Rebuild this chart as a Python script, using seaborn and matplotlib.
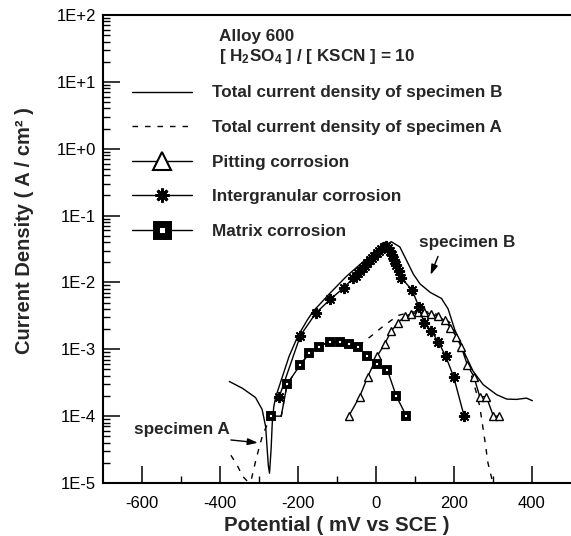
import matplotlib
matplotlib.use("Agg")
import matplotlib.pyplot as plt
from matplotlib.lines import Line2D
from matplotlib.ticker import FixedLocator, LogLocator, NullFormatter
import seaborn as sns
import pandas as pd

# ---------------- data ----------------
b_x = [-376, -342, -309, -292, -283, -279, -276, -273, -269, -266, -262, -257,
       -240, -223, -201, -176, -161, -118, -76, -33, 14, 39, 61, 79, 96, 113,
       139, 168, 185, 202, 223, 249, 275, 309, 335, 360, 386, 401]
b_y = [3.3e-4, 2.6e-4, 1.9e-4, 1.26e-4, 7.0e-5, 3.2e-5, 1.8e-5, 1.4e-5, 3.2e-5,
       7.9e-5, 1.4e-4, 1.95e-4, 3.9e-4, 7.8e-4, 1.55e-3, 2.75e-3, 3.7e-3, 6.9e-3,
       1.23e-2, 2.04e-2, 3.24e-2, 4.07e-2, 3.4e-2, 2.1e-2, 1.32e-2, 9.5e-3,
       7.1e-3, 5.75e-3, 4.0e-3, 1.95e-3, 9.8e-4, 4.7e-4, 2.95e-4, 2.1e-4,
       1.8e-4, 1.78e-4, 1.86e-4, 1.7e-4]

a_x = [-372, -355, -342, -329, -321, -316, -308, -299, -290, -283, -269, -243,
       -228, -194, -171, -147, -119, -92, -68, -47, -14, 18, 56, 90, 125, 160,
       190, 215, 235, 256, 266, 280, 287, 298, 301]
a_y = [2.6e-5, 1.8e-5, 1.26e-5, 1.05e-5, 1.05e-5, 1.4e-5, 2.2e-5, 3.5e-5,
       5.4e-5, 6.6e-5, 1.0e-4, 1.0e-4, 3.0e-4, 5.9e-4, 8.7e-4, 1.1e-3, 1.3e-3,
       1.3e-3, 1.2e-3, 1.1e-3, 1.55e-3, 2.2e-3, 3.2e-3, 3.6e-3, 3.7e-3, 3.3e-3,
       2.5e-3, 1.4e-3, 6.3e-4, 2.4e-4, 1.4e-4, 4.0e-5, 2.0e-5, 1.1e-5, 9.0e-6]

pit_x = [-70, -42, -21, 3, 22, 39, 56, 74, 91, 108, 124, 140, 159, 176, 191,
         206, 219, 234, 251, 266, 283, 301, 316]
pit_y = [1.0e-4, 1.95e-4, 3.9e-4, 7.9e-4, 1.2e-3, 1.86e-3, 2.5e-3, 3.1e-3,
         3.4e-3, 3.55e-3, 3.55e-3, 3.4e-3, 3.1e-3, 2.7e-3, 2.1e-3, 1.55e-3,
         1.07e-3, 5.9e-4, 3.9e-4, 1.95e-4, 1.95e-4, 1.0e-4, 1.0e-4]

ig_x = [-248, -194, -154, -117, -83, -59, -52, -46, -40, -34, -28, -22, -16,
        -10, -4, 2, 8, 14, 20, 26, 31, 36, 41, 46, 52, 58, 65, 93, 110, 123,
        141, 160, 179, 199, 226]
ig_y = [1.95e-4, 1.6e-3, 3.5e-3, 5.6e-3, 8.3e-3, 1.15e-2, 1.26e-2, 1.38e-2,
        1.48e-2, 1.62e-2, 1.78e-2, 1.95e-2, 2.14e-2, 2.34e-2, 2.5e-2, 2.75e-2,
        2.95e-2, 3.16e-2, 3.39e-2, 3.47e-2, 3.3e-2, 2.95e-2, 2.57e-2, 2.19e-2,
        1.82e-2, 1.48e-2, 1.17e-2, 7.6e-3, 4.3e-3, 2.5e-3, 1.9e-3, 1.29e-3,
        7.8e-4, 3.9e-4, 1.0e-4]

mat_x = [-269, -243, -228, -194, -171, -147, -119, -92, -68, -47, -23, 3, 29,
         52, 78]
mat_y = [1.0e-4, 1.0e-4, 3.0e-4, 5.9e-4, 8.7e-4, 1.1e-3, 1.3e-3, 1.3e-3,
         1.2e-3, 1.1e-3, 7.9e-4, 6.0e-4, 4.9e-4, 2.0e-4, 1.0e-4]
mat_marked = [0, 2, 3, 4, 5, 6, 7, 8, 9, 10, 11, 12, 13, 14]

y_ticks = [1e-5, 1e-4, 1e-3, 1e-2, 1e-1, 1e0, 1e1, 1e2]
y_ticklabels = ["1E-5", "1E-4", "1E-3", "1E-2", "1E-1", "1E+0", "1E+1", "1E+2"]
x_ticks = [-600, -400, -200, 0, 200, 400]
x_ticklabels = ["-600", "-400", "-200", "0", "200", "400"]

legend_labels = ["Total current density of specimen B",
                 "Total current density of specimen A",
                 "Pitting corrosion",
                 "Intergranular corrosion",
                 "Matrix corrosion"]
legend_title = "Alloy 600\n[ H$_2$SO$_4$ ] / [ KSCN ] = 10"

# ---------------- style ----------------
sns.set_style("ticks")
plt.rcParams["font.family"] = ["Liberation Sans", "DejaVu Sans"]
plt.rcParams["mathtext.default"] = "regular"
plt.rcParams["axes.unicode_minus"] = False
plt.rcParams["axes.linewidth"] = 1.5

fig = plt.figure(figsize=(5.71, 5.36), dpi=100)
ax = fig.add_axes([103 / 571, 53 / 536, 468 / 571, 468 / 536])

df_b = pd.DataFrame({"x": b_x, "y": b_y})
df_a = pd.DataFrame({"x": a_x, "y": a_y})
df_p = pd.DataFrame({"x": pit_x, "y": pit_y})
df_i = pd.DataFrame({"x": ig_x, "y": ig_y})
df_m = pd.DataFrame({"x": mat_x, "y": mat_y})

sns.lineplot(data=df_b, x="x", y="y", ax=ax, color="black", lw=1.0,
             sort=False, estimator=None)
sns.lineplot(data=df_a, x="x", y="y", ax=ax, color="black", lw=1.0,
             sort=False, estimator=None, linestyle=(0, (4, 5)))
sns.lineplot(data=df_p, x="x", y="y", ax=ax, color="black", lw=1.0,
             sort=False, estimator=None, marker="^", ms=6, mfc="white",
             mec="black", mew=1.0)
sns.lineplot(data=df_i, x="x", y="y", ax=ax, color="black", lw=1.0,
             sort=False, estimator=None, marker=(8, 2, 0), ms=8,
             mec="black", mew=1.4)
sns.lineplot(data=df_m, x="x", y="y", ax=ax, color="black", lw=1.0,
             sort=False, estimator=None, marker="s", ms=4.5, mfc="white",
             mec="black", mew=2.8, markevery=mat_marked)

ax.set_yscale("log")
ax.set_xlim(-700, 500)
ax.set_ylim(1e-5, 1e2)

ax.yaxis.set_major_locator(FixedLocator(y_ticks))
ax.set_yticklabels(y_ticklabels)
ax.yaxis.set_minor_locator(LogLocator(base=10, subs=range(2, 10), numticks=20))
ax.yaxis.set_minor_formatter(NullFormatter())
ax.set_xticks(x_ticks)
ax.set_xticklabels(x_ticklabels)
ax.set_xticks([-500, -300, -100, 100, 300], minor=True)

ax.tick_params(axis="both", which="major", direction="in", length=12,
               width=1.1, labelsize=12, color="black", labelcolor="black")
ax.tick_params(axis="x", which="major", pad=9)
ax.tick_params(axis="y", which="major", pad=5)
ax.tick_params(axis="both", which="minor", direction="in", length=5,
               width=1.0, color="black")
ax.tick_params(top=False, right=False, which="both")
ax.spines["right"].set_visible(False)
for s in ["left", "bottom", "top"]:
    ax.spines[s].set_color("black")

ax.set_xlabel("Potential ( mV vs SCE )", fontsize=14.8, fontweight="bold",
              labelpad=4)
ax.set_ylabel("Current Density ( A / cm² )", fontsize=14.5, fontweight="bold")
ax.yaxis.set_label_coords(-0.148, 0.54)

# annotations
ax.text(233, 3.9e-2, "specimen B", fontsize=12.3, fontweight="bold",
        ha="center", va="center")
ax.annotate("", xy=(140, 1.3e-2), xytext=(159, 2.45e-2),
            arrowprops=dict(arrowstyle="-|>,head_length=0.6,head_width=0.2",
                            color="black", lw=1.0, shrinkA=0, shrinkB=0))
ax.text(-497, 6.4e-5, "specimen A", fontsize=12.3, fontweight="bold",
        ha="center", va="center")
ax.annotate("", xy=(-303, 4.0e-5), xytext=(-372, 4.4e-5),
            arrowprops=dict(arrowstyle="-|>,head_length=0.6,head_width=0.2",
                            color="black", lw=1.0, shrinkA=0, shrinkB=0))

# legend
handles = [
    Line2D([], [], color="black", lw=1.0),
    Line2D([], [], color="black", lw=1.0, linestyle=(0, (4, 5))),
    Line2D([], [], color="black", lw=1.0, marker="^", ms=13, mfc="white",
           mec="black", mew=1.5),
    Line2D([], [], color="black", lw=1.0, marker=(8, 2, 0), ms=10,
           mec="black", mew=2.0),
    Line2D([], [], color="black", lw=1.0, marker="s", ms=9, mfc="white",
           mec="black", mew=5.0),
]
leg = ax.legend(handles, legend_labels, title=legend_title,
                loc="upper left", bbox_to_anchor=(0.062, 0.970),
                frameon=False, borderpad=0, borderaxespad=0,
                handlelength=3.5, handletextpad=1.2, labelspacing=1.15,
                prop={"size": 12.3, "weight": "bold"},
                title_fontproperties={"size": 12.3, "weight": "bold"})

fig.savefig("out.png", dpi=100)
